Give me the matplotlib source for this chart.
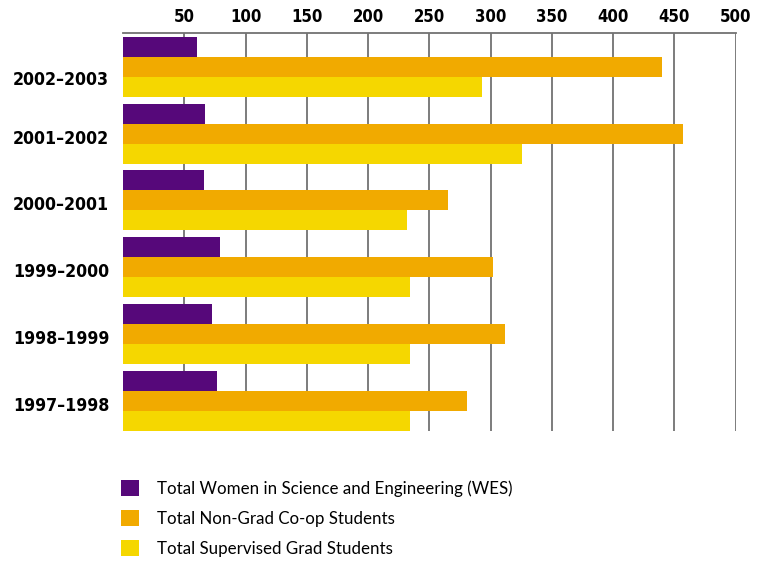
import numpy as np
import matplotlib
matplotlib.use("Agg")
import matplotlib.pyplot as plt
import matplotlib.transforms as mtransforms
from matplotlib.patches import Patch

# DATA (chronological order)
years = ["1997–1998", "1998–1999", "1999–2000", "2000–2001", "2001–2002", "2002–2003"]
wes = [77, 73, 79, 66, 67, 60]
coop = [281, 312, 302, 265, 457, 440]
grad = [234, 234, 234, 232, 326, 293]

series_names = [
    "Total Women in Science and Engineering (WES)",
    "Total Non-Grad Co-op Students",
    "Total Supervised Grad Students",
]
colors = ["#56087A", "#F1AA00", "#F5D700"]
x_ticks = [50, 100, 150, 200, 250, 300, 350, 400, 450, 500]

# FIGURE
W, H = 763, 561
fig = plt.figure(figsize=(W / 100, H / 100), dpi=100)
ax = fig.add_axes([123 / W, 1 - 431 / H, (735.7 - 123) / W, (431 - 33) / H])

y = np.arange(len(years))
h = 0.3
ax.barh(y + h, wes, height=h, color=colors[0], zorder=3)
ax.barh(y, coop, height=h, color=colors[1], zorder=3)
ax.barh(y - h, grad, height=h, color=colors[2], zorder=3)

ax.set_xlim(0, 500)
ax.set_ylim(-0.45, 5.505)

# x axis on top, vertical grid lines
ax.xaxis.set_ticks_position("top")
ax.set_xticks(x_ticks)
ax.set_xticklabels([str(t) for t in x_ticks], fontsize=12,
                   fontweight="bold", fontstretch="condensed")
ax.tick_params(axis="x", length=0, pad=5)
ax.grid(axis="x", color="#727272", linewidth=1.3, zorder=0)

ax.set_yticks(y)
ax.set_yticklabels(years, fontsize=12.7, fontweight="bold", fontstretch="condensed")
ax.tick_params(axis="y", length=0, pad=10)
# labels sit a little below the group centre (top one lower still)
for i, lab in enumerate(ax.get_yticklabels()):
    dy = -11 if i == len(years) - 1 else -3
    lab.set_transform(lab.get_transform() +
                      mtransforms.ScaledTranslation(0, dy / 100, fig.dpi_scale_trans))

for side in ["left", "right", "bottom"]:
    ax.spines[side].set_visible(False)
ax.spines["top"].set_color("#727272")
ax.spines["top"].set_linewidth(1.3)

# LEGEND
handles = [Patch(facecolor=c, edgecolor="none") for c in colors]
fig.legend(handles, series_names, loc="upper left",
           bbox_to_anchor=(121 / W, 1 - 480 / H),
           frameon=False, borderpad=0, borderaxespad=0,
           handlelength=1.06, handleheight=1.06, handletextpad=1.06,
           labelspacing=0.8, prop={"family": "Lato", "size": 12.2})

fig.savefig("out.png", dpi=100)
